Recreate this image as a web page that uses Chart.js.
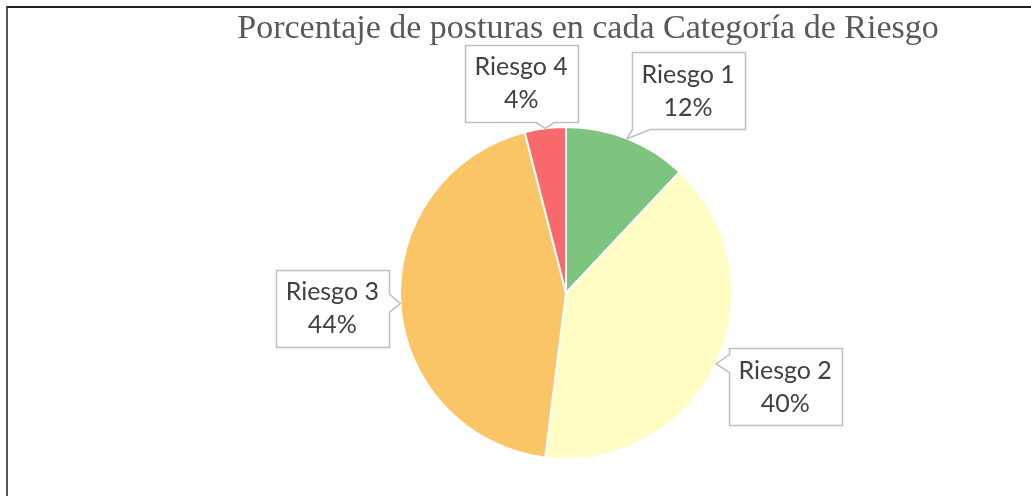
<!DOCTYPE html>
<html>
<head>
<meta charset="utf-8">
<script src="https://cdn.jsdelivr.net/npm/chart.js@4.4.1/dist/chart.umd.min.js"></script>
<style>
html,body{margin:0;padding:0;background:#fff;}
#wrap{position:relative;width:1031px;height:496px;overflow:hidden;}
#frame{position:absolute;left:6px;top:6px;width:1100px;height:600px;border-top:2px solid #222;border-left:2px solid #555;}
canvas{position:absolute;left:0;top:0;}
</style>
</head>
<body>
<div id="wrap">
<div id="frame"></div>
<canvas id="pieChart" width="1031" height="496"></canvas>
</div>
<script>
const title = 'Porcentaje de posturas en cada Categoría de Riesgo';
const labels = ['Riesgo 1', 'Riesgo 2', 'Riesgo 3', 'Riesgo 4'];
const data = [12, 40, 44, 4];
const colors = ['#7DC47E', '#FFFDC3', '#FAC567', '#F8696B'];

// where each callout box sits, relative to the point on the slice edge
const boxOffsets = [[61, -48], [69, 23], [-68, 5], [-24, -45]];

function calloutPath(ctx, l, t, r, b, tx, ty) {
    const ex = tx < l ? l - tx : tx > r ? tx - r : 0;
    const ey = ty < t ? t - ty : ty > b ? ty - b : 0;
    const bw = 18;
    let side = 'none';
    if (ex > ey) side = tx < l ? 'left' : 'right';
    else if (ey > 0) side = ty < t ? 'top' : 'bottom';
    const bx = Math.min(Math.max(tx - bw / 2, l), r - bw);
    const by = Math.min(Math.max(ty - bw / 2, t), b - bw);

    ctx.beginPath();
    ctx.moveTo(l, t);
    if (side === 'top') { ctx.lineTo(bx, t); ctx.lineTo(tx, ty); ctx.lineTo(bx + bw, t); }
    ctx.lineTo(r, t);
    if (side === 'right') { ctx.lineTo(r, by); ctx.lineTo(tx, ty); ctx.lineTo(r, by + bw); }
    ctx.lineTo(r, b);
    if (side === 'bottom') { ctx.lineTo(bx + bw, b); ctx.lineTo(tx, ty); ctx.lineTo(bx, b); }
    ctx.lineTo(l, b);
    if (side === 'left') { ctx.lineTo(l, by + bw); ctx.lineTo(tx, ty); ctx.lineTo(l, by); }
    ctx.closePath();
}

const calloutPlugin = {
    id: 'callouts',
    afterDraw(chart) {
        const ctx = chart.ctx;
        ctx.save();

        // title
        ctx.font = '34px "Liberation Serif", "Times New Roman", serif';
        ctx.fillStyle = '#595959';
        ctx.textAlign = 'center';
        ctx.textBaseline = 'alphabetic';
        ctx.fillText(title, 588, 38);

        const total = data.reduce((a, b) => a + b, 0);
        const meta = chart.getDatasetMeta(0);
        meta.data.forEach((arc, i) => {
            const p = arc.getProps(['x', 'y', 'startAngle', 'endAngle', 'outerRadius']);
            const mid = (p.startAngle + p.endAngle) / 2;
            const tx = p.x + Math.cos(mid) * p.outerRadius;
            const ty = p.y + Math.sin(mid) * p.outerRadius;
            const cx = tx + boxOffsets[i][0];
            const cy = ty + boxOffsets[i][1];
            const w = 113, h = 77;
            const l = Math.round(cx - w / 2) + 0.5, t = Math.round(cy - h / 2) + 0.5;

            calloutPath(ctx, l, t, l + w, t + h, tx, ty);
            ctx.fillStyle = '#fff';
            ctx.fill();
            ctx.lineWidth = 1.5;
            ctx.strokeStyle = '#BFBFBF';
            ctx.stroke();

            let pct = Math.round(data[i] / total * 100) + '%';
            ctx.font = '25px Lato, "Open Sans", sans-serif';
            ctx.fillStyle = '#404040';
            ctx.textAlign = 'center';
            ctx.textBaseline = 'middle';
            ctx.fillText(labels[i], cx, cy - 16);
            ctx.fillText(pct, cx, cy + 17);
        });
        ctx.restore();
    }
};

new Chart(document.getElementById('pieChart'), {
    type: 'pie',
    data: {
        labels: labels,
        datasets: [{
            data: data,
            backgroundColor: colors,
            borderColor: '#fff',
            borderWidth: 2
        }]
    },
    options: {
        responsive: false,
        animation: false,
        devicePixelRatio: 1,
        radius: 166,
        layout: { padding: { left: 101, top: 90, right: 0, bottom: 0 } },
        plugins: {
            legend: { display: false },
            tooltip: { enabled: false },
            title: { display: false }
        }
    },
    plugins: [calloutPlugin]
});
</script>
</body>
</html>
